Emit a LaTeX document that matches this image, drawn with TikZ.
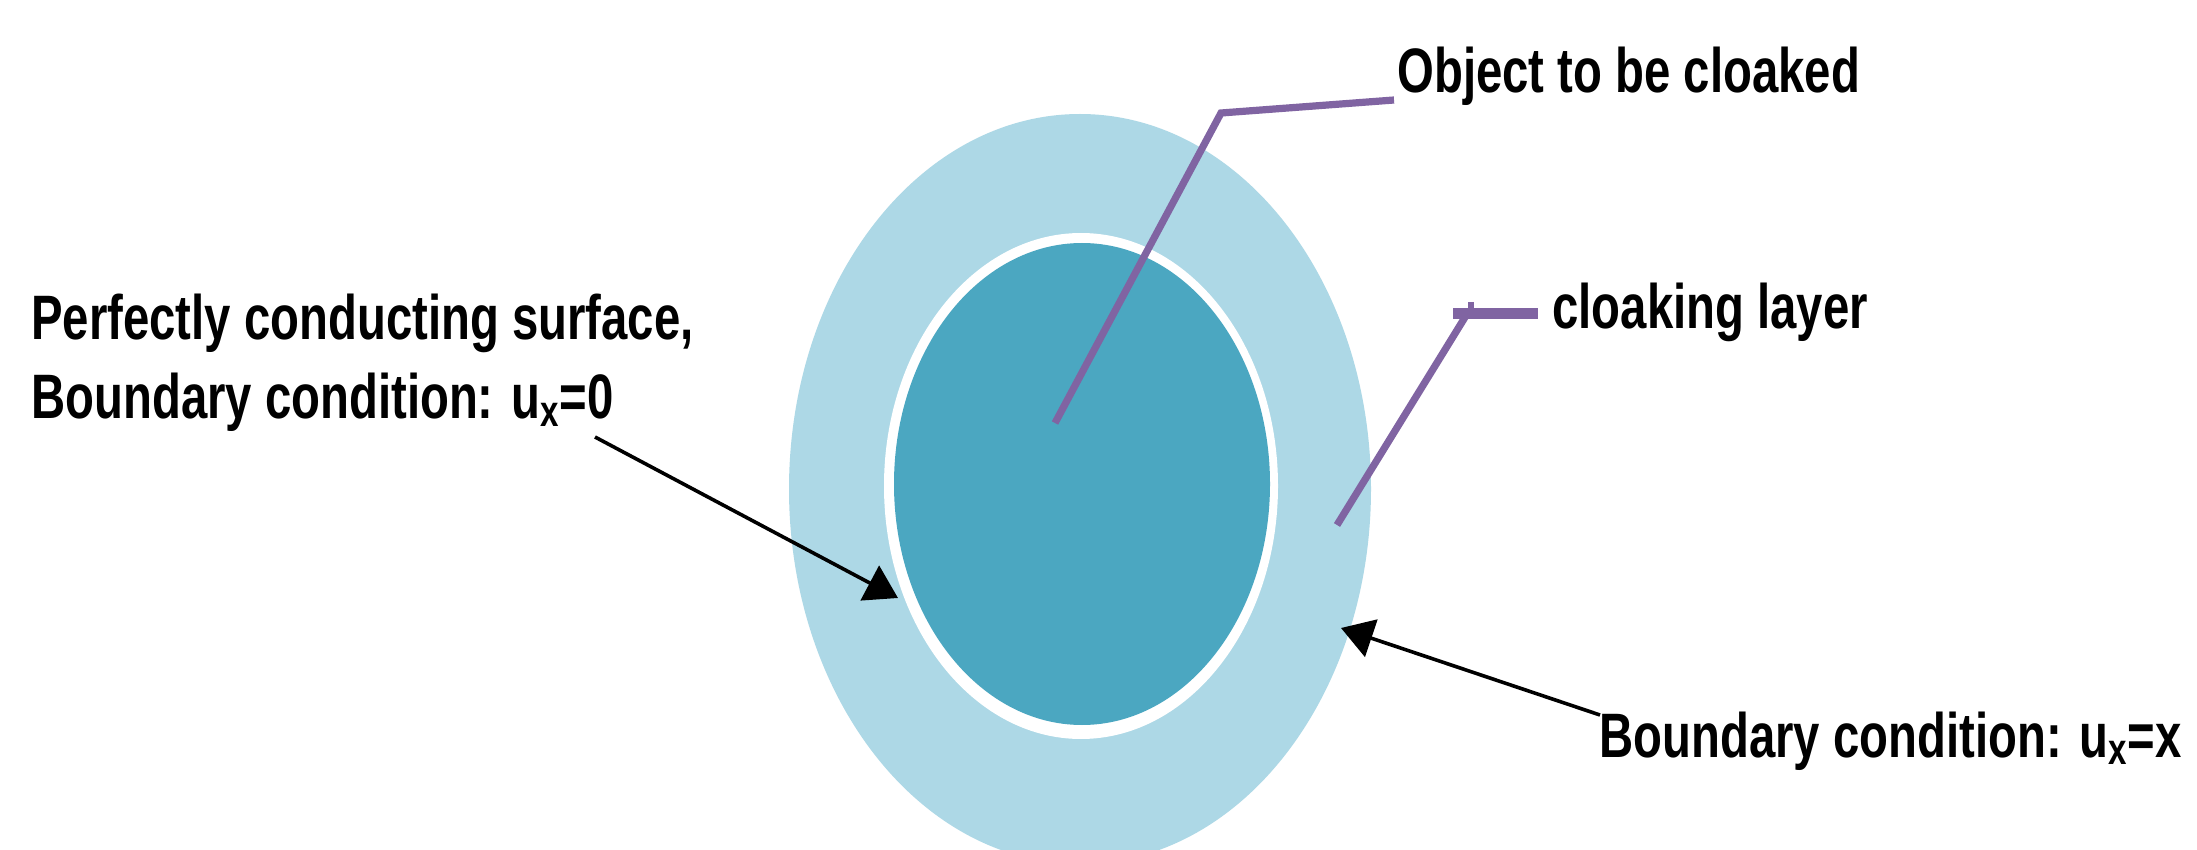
\documentclass[tikz,border=0pt]{standalone}
\usepackage{fontspec}
\newfontfamily\labelfont{Liberation Sans Bold}[FakeStretch=0.753]
\usetikzlibrary{arrows.meta,shapes.geometric}
\definecolor{layerblue}{RGB}{173,216,230}
\definecolor{objectteal}{RGB}{75,167,193}
\definecolor{leaderpurple}{RGB}{128,100,162}
\begin{document}
\begin{tikzpicture}[x=0.5pt,y=-0.5pt,
  labeltext/.style={font=\labelfont\fontsize{31.4}{39}\selectfont, inner sep=0pt, anchor=base west},
  region/.style={ellipse, inner sep=0pt, draw=none},
  leader/.style={draw=leaderpurple, line width=3.6pt, line join=miter},
  pointer/.style={draw=black, line width=1.8pt, -{Triangle[length=16pt,width=19.5pt]}}]
\useasboundingbox (0,0) rectangle (2197,850);
\clip (0,0) rectangle (2197,850);
\fill[white] (0,0) rectangle (2197,850);

% cloaking layer, perfectly conducting surface and the object inside it
\node[region, fill=layerblue, minimum width=291pt, minimum height=375pt] (layer) at (1080,489) {};
\node[region, fill=white, minimum width=197pt, minimum height=253pt] (surface) at (1081,486) {};
\node[region, fill=objectteal, minimum width=188pt, minimum height=241pt] (object) at (1082,484) {};

% labels
\node[labeltext] (pecA) at (31,340) {Perfectly conducting surface,};
\node[labeltext] (pecB) at (31,419) {Boundary condition: u\textsubscript{x}=0};
\node[labeltext] (objLabel) at (1397,93) {Object to be cloaked};
\node[labeltext] (layerLabel) at (1552,329) {cloaking layer};
\node[labeltext] (outerLabel) at (1599,757) {Boundary condition: u\textsubscript{x}=x};

% leader lines
\coordinate (objIn) at (1055,423);
\coordinate (objKnee) at (1221,113);
\coordinate (objEnd) at (1394,100);
\draw[leader] (objIn) -- (objKnee) -- (objEnd);

\coordinate (layerIn) at (1337,525);
\coordinate (layerKnee) at (1467,314);
\coordinate (layerBarL) at (1453,314);
\coordinate (layerEnd) at (1538,314);
\coordinate (layerTickA) at (1471,302);
\coordinate (layerTickB) at (1471,312);
\draw[leader] (layerIn) -- (layerKnee);
\draw[leader, line width=5.5pt] (layerBarL) -- (layerEnd);
\draw[leader, line width=3pt] (layerTickA) -- (layerTickB);

% boundary pointers
\coordinate (pecTail) at (595,437);
\coordinate (pecTip) at (898,598);
\draw[pointer] (pecTail) -- (pecTip);

\coordinate (outerTail) at (1600,715);
\coordinate (outerTip) at (1341,628);
\draw[pointer] (outerTail) -- (outerTip);
\end{tikzpicture}
\end{document}
